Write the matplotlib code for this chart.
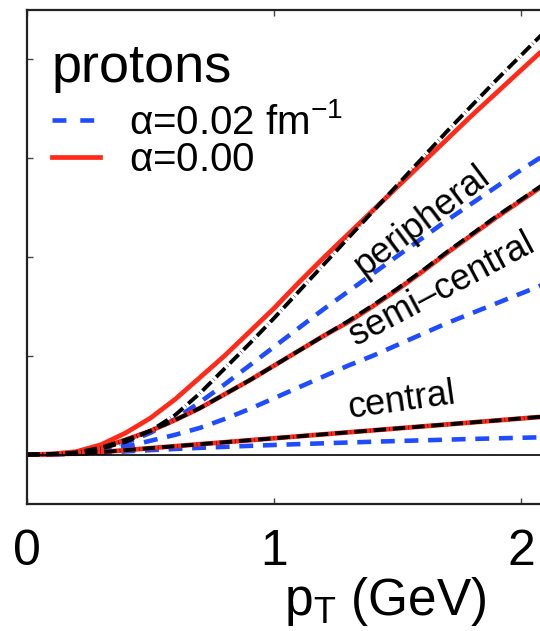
import matplotlib
matplotlib.use("Agg")
import matplotlib.pyplot as plt
from matplotlib.lines import Line2D

plt.rcParams['font.family'] = ['Liberation Sans', 'DejaVu Sans']
plt.rcParams['mathtext.default'] = 'regular'
plt.rcParams['lines.scale_dashes'] = False

# pT grid (GeV)
pt = [0.0, 0.1, 0.2, 0.3, 0.4, 0.5, 0.6, 0.7, 0.8, 0.9, 1.0, 1.1,
      1.2, 1.3, 1.4, 1.5, 1.6, 1.7, 1.8, 1.9, 2.0, 2.1, 2.2]

# alpha = 0.00 (red solid)
periph_a0 = [0, 0.005, 0.03, 0.10, 0.22, 0.37, 0.56, 0.78, 1.00, 1.24, 1.48, 1.74,
             1.99, 2.23, 2.47, 2.71, 2.95, 3.19, 3.43, 3.66, 3.89, 4.12, 4.35]
semi_a0 = [0, 0.004, 0.02, 0.07, 0.15, 0.24, 0.35, 0.47, 0.61, 0.75, 0.90, 1.05,
           1.20, 1.34, 1.50, 1.67, 1.85, 2.04, 2.22, 2.40, 2.57, 2.74, 2.91]
central_a0 = [0, 0.003, 0.01, 0.025, 0.045, 0.065, 0.085, 0.105, 0.125, 0.145, 0.165, 0.185,
              0.205, 0.225, 0.245, 0.265, 0.285, 0.305, 0.325, 0.345, 0.365, 0.385, 0.405]

# black dash-dot reference curves
periph_ref = [0, 0.004, 0.02, 0.06, 0.13, 0.24, 0.40, 0.62, 0.87, 1.12, 1.38, 1.65,
              1.92, 2.19, 2.46, 2.73, 3.00, 3.27, 3.53, 3.79, 4.04, 4.29, 4.53]
semi_ref = [0, 0.004, 0.02, 0.07, 0.15, 0.24, 0.35, 0.47, 0.61, 0.75, 0.90, 1.05,
            1.20, 1.35, 1.51, 1.68, 1.86, 2.05, 2.23, 2.41, 2.58, 2.75, 2.92]
central_ref = [0, 0.003, 0.01, 0.025, 0.045, 0.065, 0.085, 0.105, 0.125, 0.145, 0.165, 0.185,
               0.205, 0.225, 0.245, 0.265, 0.285, 0.305, 0.325, 0.345, 0.366, 0.386, 0.406]

# alpha = 0.02 fm^-1 (blue dashed)
periph_a2 = [0, 0.003, 0.015, 0.05, 0.12, 0.22, 0.36, 0.53, 0.71, 0.90, 1.09, 1.28,
             1.47, 1.65, 1.83, 2.01, 2.19, 2.37, 2.54, 2.71, 2.88, 3.04, 3.20]
semi_a2 = [0, 0.002, 0.01, 0.035, 0.08, 0.14, 0.20, 0.27, 0.36, 0.46, 0.57, 0.68,
           0.79, 0.90, 1.00, 1.11, 1.22, 1.33, 1.43, 1.53, 1.63, 1.73, 1.83]
central_a2 = [0, 0.002, 0.008, 0.018, 0.032, 0.045, 0.057, 0.068, 0.078, 0.088, 0.097, 0.106,
              0.114, 0.122, 0.130, 0.137, 0.144, 0.151, 0.158, 0.164, 0.170, 0.176, 0.182]

red = '#ff2a1a'
blue = '#1f4cff'

fig = plt.figure(figsize=(5.4, 6.31), dpi=100)
ax = fig.add_axes([0.05, 0.2013, 1.0063, 0.783])

for y in [periph_a2, semi_a2, central_a2]:
    ax.plot(pt, y, color=blue, lw=3.3, dashes=(10, 7))
for y in [periph_a0, semi_a0, central_a0]:
    ax.plot(pt, y, color=red, lw=3.4, solid_capstyle='butt')
for y in [periph_ref, semi_ref, central_ref]:
    ax.plot(pt, y, color='black', lw=2.8, dashes=(9, 2.3, 0.3, 2.3),
            dash_capstyle='butt')

ax.axhline(0, color='black', lw=1.2)

ax.set_xlim(0, 2.2)
ax.set_ylim(-0.5, 4.5)
ax.set_xticks([0, 1, 2])
ax.set_xticklabels(['0', '1', '2'])
ax.set_yticks([0, 1, 2, 3, 4])
ax.set_yticklabels([])
ax.tick_params(axis='x', direction='in', length=4, width=1, top=True,
               labelsize=36, pad=18, color='#444444')
ax.tick_params(axis='y', direction='in', length=4, width=1, color='#444444')
for s in ax.spines.values():
    s.set_linewidth(1.6)
    s.set_color('#222222')

ax.set_xlabel(r'p$_T$ (GeV)', fontsize=37, va='baseline')
ax.xaxis.set_label_coords(0.659, -0.225)

ax.text(1.60, 2.37, 'peripheral', fontsize=26, rotation=37,
        ha='center', va='center', rotation_mode='anchor')
ax.text(1.680, 1.673, 'semi\u2013central', fontsize=26, rotation=28,
        ha='center', va='center', rotation_mode='anchor')
ax.text(1.518, 0.538, 'central', fontsize=26, rotation=8,
        ha='center', va='center', rotation_mode='anchor')

fig.text(52 / 540, 1 - 82 / 631, 'protons', fontsize=39, va='baseline')

handles = [Line2D([], [], color=blue, lw=3.3, dashes=(10, 10)),
           Line2D([], [], color=red, lw=3.4)]
labels = [r'$\alpha$=0.02 fm$^{-1}$', r'$\alpha$=0.00']
fig.legend(handles, labels, loc='upper left', bbox_to_anchor=(52 / 540, 1 - 103 / 631),
           frameon=False, fontsize=29, handlelength=1.2, handletextpad=0.7,
           labelspacing=-0.02, borderpad=0, borderaxespad=0)

fig.savefig('out.png', dpi=100)
